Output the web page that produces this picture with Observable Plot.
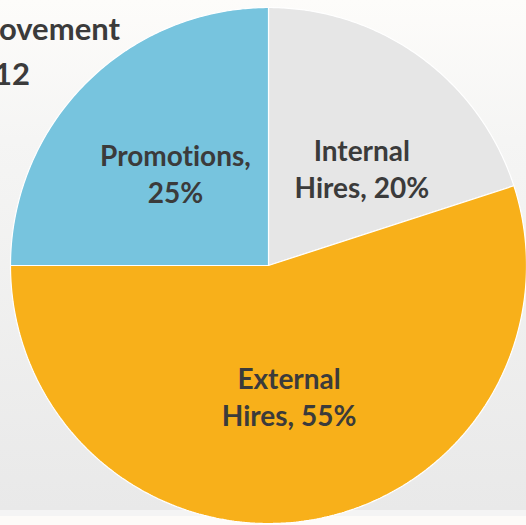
<!DOCTYPE html>
<html>
<head>
<meta charset="utf-8">
<script src="https://cdn.jsdelivr.net/npm/d3@7"></script>
<script src="https://cdn.jsdelivr.net/npm/@observablehq/plot@0.6"></script>
<style>
  html, body { margin: 0; padding: 0; }
  body {
    width: 526px; height: 525px; overflow: hidden; position: relative;
    background: linear-gradient(to bottom, #fdfcfa 0px, #f5f5f4 140px, #e9e9e9 510px, #f4f4f4 510px, #f4f4f4 516px, #fdfbf8 516px);
    font-family: Lato, "Open Sans", sans-serif;
  }
  #chart { position: absolute; left: 0; top: 0; }
  #chart text { font-variant-ligatures: none; }
  .title { position: absolute; font-weight: bold; font-size: 31px; color: #3b3b3b; white-space: nowrap; text-align: right; line-height: 1; font-variant-ligatures: none; }
</style>
</head>
<body>
<div class="title" style="right:406px; top:13px;">Employee Movement</div>
<div class="title" style="right:496px; top:58px;">2012</div>
<div id="chart"></div>
<script>
const categories = ["Internal Hires", "External Hires", "Promotions"];
const values = [20, 55, 25];
const labelLines = [["Internal", "Hires, 20%"], ["External", "Hires, 55%"], ["Promotions,", "25%"]];
const colors = ["#e6e6e6", "#f8b01a", "#77c4de"];

const arcs = d3.pie().sort(null)(values);
const pts = [];
arcs.forEach((a, i) => {
  const cat = categories[i];
  pts.push({cat, x: 0, y: 0});
  const n = Math.max(2, Math.ceil((a.endAngle - a.startAngle) / 0.01));
  for (let k = 0; k <= n; k++) {
    const t = a.startAngle + (a.endAngle - a.startAngle) * k / n;
    pts.push({cat, x: Math.sin(t), y: Math.cos(t)});
  }
  pts.push({cat, x: 0, y: 0});
});
const labels = arcs.map((a, i) => {
  const m = (a.startAngle + a.endAngle) / 2;
  return {cat: categories[i], text: labelLines[i].join("\n"), x: 0.51 * Math.sin(m), y: 0.51 * Math.cos(m)};
});

const chart = Plot.plot({
  width: 526, height: 525,
  margin: 0,
  style: {background: "transparent", fontFamily: "Lato, 'Open Sans', sans-serif"},
  x: {domain: [-1, 1], range: [10, 526], axis: null},
  y: {domain: [-1, 1], range: [523, 7], axis: null},
  color: {domain: categories, range: colors},
  marks: [
    Plot.line(pts, {x: "x", y: "y", z: "cat", fill: "cat", stroke: "white", strokeWidth: 1.2, strokeLinejoin: "miter"}),
    Plot.text(labels.filter(d => d.cat !== "Internal Hires"), {x: "x", y: "y", text: "text", fontSize: 28, fontWeight: "bold", fill: "#3b3b3b", lineHeight: 1.32}),
    Plot.text(labels.filter(d => d.cat === "Internal Hires"), {x: "x", y: "y", text: "text", fontSize: 28, fontWeight: "bold", fill: "#3b3b3b", lineHeight: 1.32, dx: 16, dy: 9})
  ]
});
document.getElementById("chart").appendChild(chart);
</script>
</body>
</html>
